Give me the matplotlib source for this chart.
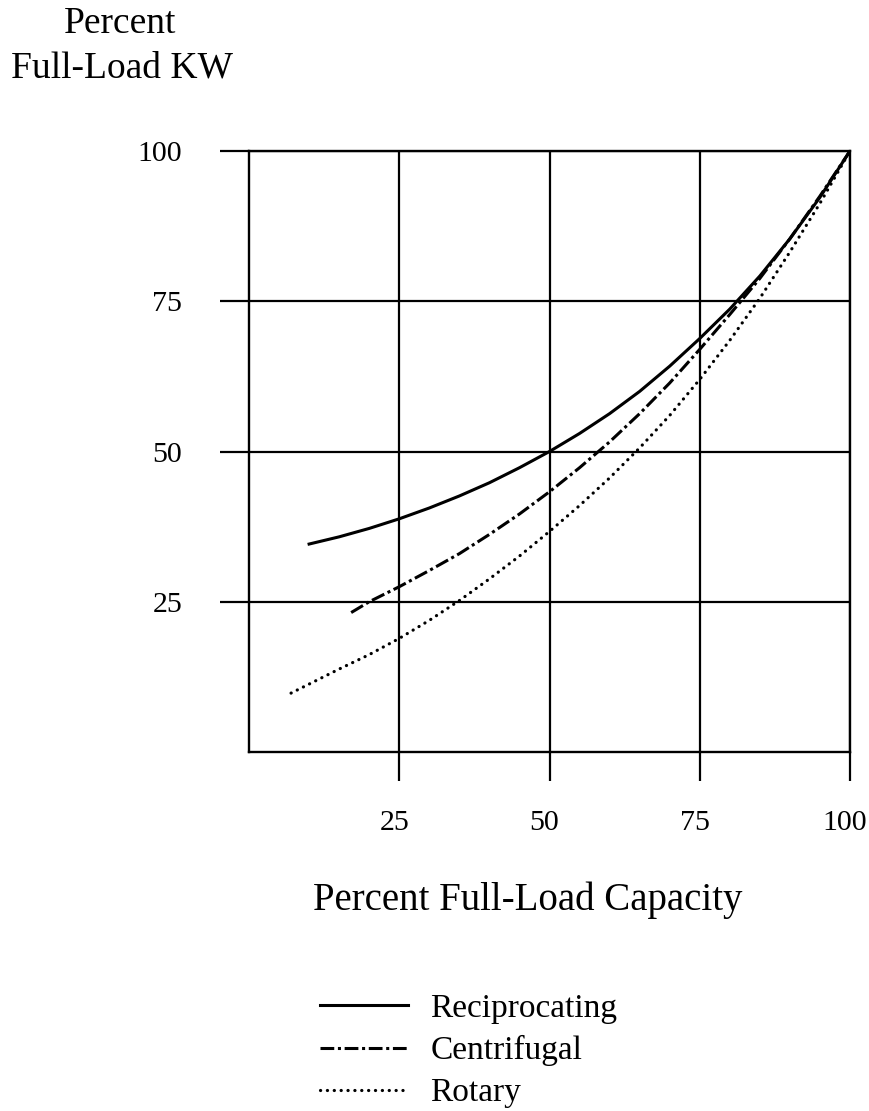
import matplotlib
matplotlib.use("Agg")
import matplotlib.pyplot as plt
import matplotlib.transforms as mtransforms

plt.rcParams["font.family"] = ["Liberation Serif", "DejaVu Serif"]

# values (percent full-load capacity -> percent full-load KW)
recip_x = [10, 15, 20, 25, 30, 35, 40, 45, 50, 55, 60, 65, 70, 75, 80, 85, 90, 95, 100]
recip_y = [34.6, 35.8, 37.2, 38.8, 40.6, 42.6, 44.8, 47.3, 50.0, 53.0, 56.3, 60.0,
           64.2, 68.8, 73.7, 79.2, 85.4, 92.3, 100]

centr_x = [17, 20, 25, 30, 35, 40, 45, 50, 55, 60, 65, 70, 75, 80, 85, 90, 95, 100]
centr_y = [23.2, 25.0, 27.5, 30.2, 33.0, 36.2, 39.6, 43.3, 47.3, 51.6, 56.3, 61.4,
           67.0, 72.8, 78.8, 85.4, 92.5, 100]

rotary_x = [7, 10, 15, 20, 25, 30, 35, 40, 45, 50, 55, 60, 65, 70, 75, 80, 85, 90, 95, 100]
rotary_y = [9.8, 11.3, 13.8, 16.2, 18.9, 21.9, 25.2, 28.8, 32.6, 36.7, 41.0, 45.6,
            50.6, 56.0, 62.0, 68.5, 75.5, 83.2, 91.3, 100]

ticks = [25, 50, 75, 100]
labels = ["Reciprocating", "Centrifugal", "Rotary"]

fig = plt.figure(figsize=(8.69, 11.11), dpi=100)
ax = fig.add_axes([249 / 869, 1 - 752 / 1111, 601 / 869, 601 / 1111])

ax.plot(recip_x, recip_y, color="black", lw=2.2, label=labels[0])
ax.plot(centr_x, centr_y, color="black", lw=2.2, linestyle=(0, (4.5, 1.2, 1, 1.2)),
        label=labels[1])
ax.plot(rotary_x, rotary_y, color="black", lw=2.3, linestyle=(0, (0.05, 2.1)),
        dash_capstyle="round", label=labels[2])

ax.set_xlim(0, 100)
ax.set_ylim(0, 100)
ax.set_xticks(ticks)
ax.set_yticks(ticks)
ax.grid(True, color="black", lw=1.6)
for s in ax.spines.values():
    s.set_linewidth(1.7)
ax.tick_params(direction="out", length=21, width=1.6, labelsize=21.5)
ax.tick_params(axis="x", pad=21)
ax.tick_params(axis="y", pad=27)

# x tick labels sit a little left of their ticks in the original
shift = mtransforms.ScaledTranslation(-5 / 100, 0, fig.dpi_scale_trans)
for lab in ax.get_xticklabels():
    lab.set_transform(lab.get_transform() + shift)

fig.text(120 / 869, 1 - 24 / 1111, "Percent", fontsize=27, ha="center", va="center")
fig.text(122 / 869, 1 - 68 / 1111, "Full-Load KW", fontsize=27, ha="center", va="center")
fig.text(528 / 869, 1 - 900 / 1111, "Percent Full-Load Capacity", fontsize=28,
         ha="center", va="center")

fig.legend(loc="upper left", bbox_to_anchor=(320 / 869, 1 - 993 / 1111), frameon=False,
           fontsize=24, handlelength=2.65, handletextpad=0.66, labelspacing=0.35,
           borderpad=0, borderaxespad=0)

fig.savefig("out.png", dpi=100)
